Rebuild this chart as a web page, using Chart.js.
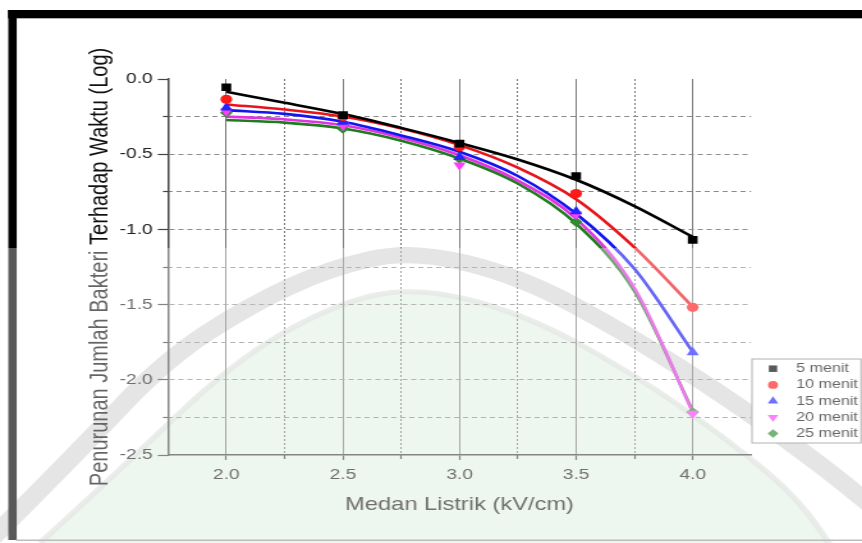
<!DOCTYPE html>
<html>
<head>
<meta charset="utf-8">
<title>Penurunan Jumlah Bakteri</title>
<script src="https://cdn.jsdelivr.net/npm/chart.js@4.4.1/dist/chart.umd.min.js"></script>
<style>
	body { margin: 0; background: #fff; }
	#chart-bakteri { display: block; }
</style>
</head>
<body>
<canvas id="chart-bakteri" width="674" height="543" style="width:862px;height:543px"></canvas>
<script>
// measured points (x = medan listrik kV/cm)
const xPoints = [2.0, 2.5, 3.0, 3.5, 4.0];
const y5 = [-0.055, -0.24, -0.43, -0.645, -1.07];
const y10 = [-0.135, -0.25, -0.45, -0.762, -1.518];
const y15 = [-0.19, -0.285, -0.52, -0.88, -1.818];
const y20 = [-0.215, -0.31, -0.573, -0.9, -2.225];
const y25 = [-0.225, -0.33, -0.53, -0.95, -2.215];

// fitted curves
const xFit = [2.0, 2.25, 2.5, 2.75, 3.0, 3.25, 3.5, 3.75, 4.0];
const fit5 = [-0.085, -0.158, -0.233, -0.325, -0.425, -0.535, -0.67, -0.845, -1.05];
const fit10 = [-0.169, -0.203, -0.25, -0.33, -0.44, -0.59, -0.8, -1.12, -1.515];
const fit15 = [-0.207, -0.232, -0.284, -0.375, -0.484, -0.645, -0.896, -1.262, -1.815];
const fit20 = [-0.25, -0.268, -0.307, -0.39, -0.507, -0.675, -0.929, -1.39, -2.215];
const fit25 = [-0.273, -0.29, -0.329, -0.41, -0.529, -0.695, -0.962, -1.41, -2.207];

const seriesLabels = ['5 menit', '10 menit', '15 menit', '20 menit', '25 menit'];

const xMajorTicks = [2.0, 2.5, 3.0, 3.5, 4.0];
const xMinorTicks = [2.25, 2.75, 3.25, 3.75];
const yMajorTicks = [-2.5, -2.0, -1.5, -1.0, -0.5, 0.0];
const yMinorTicks = [-2.25, -1.75, -1.25, -0.75, -0.25];

// the picture is stretched sideways, so the canvas is drawn narrow and widened by css
const W = 674, H = 543, S = 862 / W;
const FONT = "'Liberation Sans', Arial, sans-serif";

const lineColors = ['#000000', '#e8141c', '#1414ee', '#e034e0', '#1e7b1e'];
const markColors = ['#000000', '#ff1a1a', '#2424ff', '#ff3cff', '#2e8b2e'];
const markStyles = ['rect', 'circle', 'triangle', 'triangle', 'rectRot'];
const markRotation = [0, 0, 0, 180, 0];
const markRadius = [5.4, 4.6, 5.6, 5.6, 5.0];

const pointSets = [y5, y10, y15, y20, y25];
const fitSets = [fit5, fit10, fit15, fit20, fit25];

function toXY(xs, ys) {
	return xs.map((x, i) => ({ x: x, y: ys[i] }));
}

let datasets = [];
pointSets.forEach((ys, i) => {
	datasets.push({
		label: seriesLabels[i],
		data: toXY(xPoints, ys),
		showLine: false,
		pointStyle: markStyles[i],
		rotation: markRotation[i],
		pointRadius: markRadius[i],
		backgroundColor: markColors[i],
		borderColor: markColors[i],
		borderWidth: 0,
		order: 0
	});
});
fitSets.forEach((ys, i) => {
	datasets.push({
		label: 'fit ' + seriesLabels[i],
		data: toXY(xFit, ys),
		showLine: true,
		cubicInterpolationMode: 'monotone',
		pointRadius: 0,
		borderColor: lineColors[i],
		borderWidth: 2.6,
		fill: false,
		order: 1
	});
});

// smooth path through scaled-space points
function smoothPath(ctx, pts) {
	ctx.moveTo(pts[0][0] / S, pts[0][1]);
	for (let i = 1; i < pts.length - 1; i++) {
		const mx = (pts[i][0] + pts[i + 1][0]) / 2, my = (pts[i][1] + pts[i + 1][1]) / 2;
		ctx.quadraticCurveTo(pts[i][0] / S, pts[i][1], mx / S, my);
	}
	const last = pts[pts.length - 1];
	ctx.lineTo(last[0] / S, last[1]);
}

const pagePlugin = {
	id: 'page',
	beforeDraw(chart) {
		const ctx = chart.ctx;
		ctx.save();
		ctx.fillStyle = '#fff';
		ctx.fillRect(0, 0, W, H);
		/* watermark */
		const inner = [[40, 543], [120, 470], [233, 362], [330, 306], [412, 286], [520, 312], [631, 372], [731, 442], [800, 500], [840, 560]];
		ctx.beginPath();
		smoothPath(ctx, inner);
		ctx.closePath();
		ctx.fillStyle = 'rgb(228,242,231)';
		ctx.fill();
		ctx.beginPath();
		smoothPath(ctx, inner);
		ctx.strokeStyle = 'rgba(215,220,215,0.8)';
		ctx.lineWidth = 5;
		ctx.stroke();
		const outer = [[-10, 540], [80, 450], [165, 360], [250, 305], [330, 268], [412, 250], [520, 276], [631, 336], [731, 400], [831, 472], [900, 530]];
		ctx.beginPath();
		smoothPath(ctx, outer);
		ctx.strokeStyle = '#d8d8d8';
		ctx.lineWidth = 16;
		ctx.stroke();
		ctx.restore();
	},
	afterDraw(chart) {
		const ctx = chart.ctx;
		ctx.save();
		/* legend */
		const lx = 752 / S, ly = 359, lw = (861 - 752) / S, lh = 84;
		ctx.fillStyle = '#fff';
		ctx.fillRect(lx, ly, lw, lh);
		ctx.strokeStyle = '#8a8a8a';
		ctx.lineWidth = 1;
		ctx.strokeRect(lx, ly, lw, lh);
		ctx.font = '12.6px ' + FONT;
		ctx.textBaseline = 'middle';
		chart.data.datasets.filter(d => d.showLine === false).forEach((d, i) => {
			const y = 368.7 + i * 16.2;
			ctx.fillStyle = d.backgroundColor;
			ctx.strokeStyle = d.borderColor;
			Chart.helpers.drawPoint(ctx, { pointStyle: d.pointStyle, rotation: d.rotation, radius: d.pointRadius * 0.85, borderWidth: 0 }, 773 / S, y);
			ctx.fillStyle = '#111';
			ctx.fillText(d.label, 796 / S, y);
		});
		/* frame bars */
		ctx.fillStyle = '#000';
		ctx.fillRect(8 / S, 10, W, 8.3);
		ctx.fillRect(8.3 / S, 10, 8.4 / S, 530);
		ctx.fillStyle = '#9a9a9a';
		ctx.fillRect(16 / S, 539.5, W, 1.5);
		/* washed lower half */
		ctx.fillStyle = 'rgba(255,255,255,0.35)';
		ctx.fillRect(0, 248, W, H - 248);
		ctx.restore();
	}
};

const gridGray = '#8c8c8c';
const axisGray = '#444';

const configChart = {
	type: 'scatter',
	data: { datasets: datasets },
	options: {
		responsive: false,
		animation: false,
		events: [],
		layout: { padding: { left: 62, top: 79, right: W - 751 / S, bottom: 22.9 } },
		plugins: {
			legend: { display: false },
			tooltip: { enabled: false }
		},
		scales: {
			x: {
				type: 'linear', position: 'bottom', weight: 1,
				min: 1.75, max: 4.25,
				afterBuildTicks: s => { s.ticks = xMajorTicks.map(v => ({ value: v })); },
				afterFit: s => { s.height = 65.1; },
				ticks: { font: { size: 15, family: FONT }, color: '#222', padding: 6, callback: v => v.toFixed(1) },
				grid: { color: '#7a7a7a', lineWidth: 1, tickLength: 5, tickColor: axisGray, tickWidth: 1.2 },
				border: { color: axisGray, width: 1.5 },
				title: { display: true, text: 'Medan Listrik (kV/cm)', color: '#222', font: { size: 18.5, family: FONT } }
			},
			x2: {
				type: 'linear', position: 'bottom', weight: 0,
				min: 1.75, max: 4.25,
				afterBuildTicks: s => { s.ticks = xMinorTicks.map(v => ({ value: v })); },
				afterFit: s => { s.height = 0; },
				ticks: { display: false },
				grid: { color: '#777', lineWidth: 1, tickLength: 4, tickColor: axisGray, tickWidth: 1.2 },
				border: { display: false, dash: [2, 2] }
			},
			y: {
				position: 'left', weight: 1,
				min: -2.5, max: 0,
				afterBuildTicks: s => { s.ticks = yMajorTicks.map(v => ({ value: v })); },
				afterFit: s => { s.width = 131.4 - 62; },
				ticks: { font: { size: 15, family: FONT }, color: '#222', padding: 4, callback: v => v.toFixed(1) },
				grid: {
					color: c => (c.tick && (c.tick.value === 0 || c.tick.value === -2.5)) ? 'rgba(0,0,0,0)' : gridGray,
					lineWidth: 1, tickLength: 8, tickColor: axisGray, tickWidth: 1.2
				},
				border: { color: axisGray, width: 1.5, dash: [4, 3] },
				title: { display: true, text: 'Penurunan Jumlah Bakteri Terhadap Waktu (Log)', color: '#111', font: { size: 20, family: FONT } }
			},
			y2: {
				position: 'left', weight: 0,
				min: -2.5, max: 0,
				afterBuildTicks: s => { s.ticks = yMinorTicks.map(v => ({ value: v })); },
				afterFit: s => { s.width = 0; },
				ticks: { display: false },
				grid: { color: gridGray, lineWidth: 1, tickLength: 4, tickColor: axisGray, tickWidth: 1.2 },
				border: { display: false, dash: [4, 3] }
			}
		}
	},
	plugins: [pagePlugin]
};

var ctx = document.getElementById('chart-bakteri').getContext('2d');
window.chartBakteri = new Chart(ctx, configChart);
ctx.canvas.style.width = '862px';
ctx.canvas.style.height = '543px';
</script>
</body>
</html>
